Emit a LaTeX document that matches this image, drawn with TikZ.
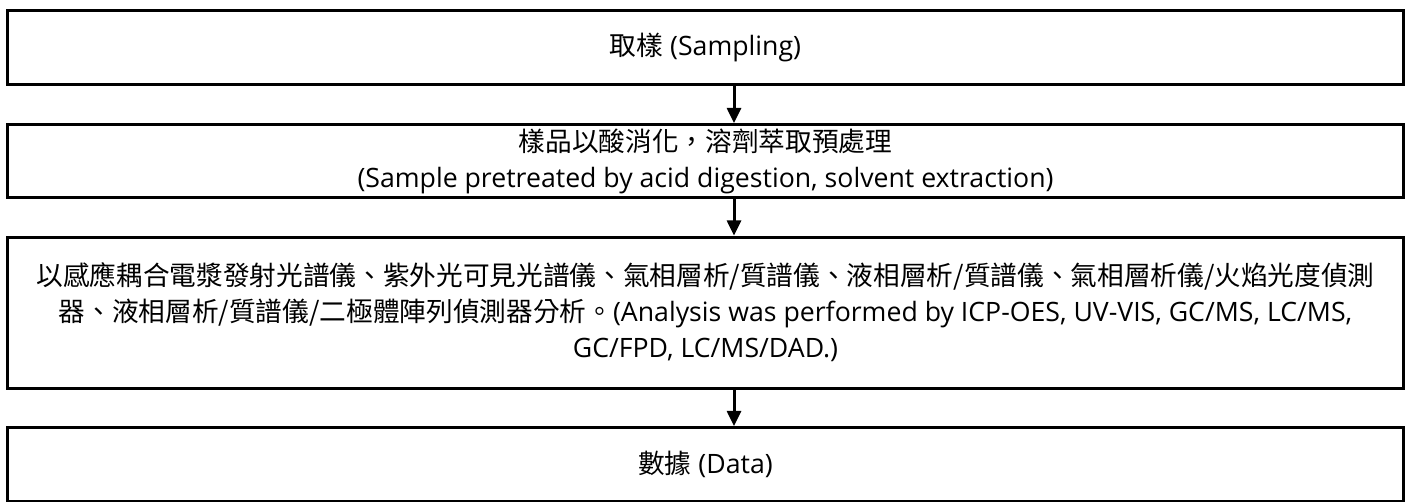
\documentclass[tikz,border=0pt]{standalone}
\usepackage{fontspec}
\setmainfont{Open Sans}
\newfontfamily\cjk[Script=CJK,Language=Chinese Traditional]{Noto Sans CJK TC}
\usetikzlibrary{arrows.meta}
\begin{document}
\begin{tikzpicture}[x=0.75pt,y=-0.75pt,
  box/.style={draw=black, line width=2.25pt, rectangle, outer sep=0pt, inner sep=0pt,
    minimum width=1047pt, align=center, font=\fontsize{20pt}{27pt}\selectfont},
  arr/.style={line width=2.25pt, -{Triangle[length=11.5pt,width=10.5pt]}, shorten >=1pt}]
\useasboundingbox (0,0) rectangle (1411,501);
\node[box, minimum height=55.5pt] (b1) at (705.5,47.5) {{\cjk 取樣} (Sampling)};
\node[box, minimum height=54.75pt] (b2) at (705.5,161) {{\cjk 樣品以酸消化，溶劑萃取預處理}\\(Sample pretreated by acid digestion, solvent extraction)};
\node[box, minimum height=113.25pt] (b3) at (705.5,312.5) {{\cjk 以感應耦合電漿發射光譜儀、紫外光可見光譜儀、氣相層析/質譜儀、液相層析/質譜儀、氣相層析儀/火焰光度偵測}\\{\cjk 器、液相層析/質譜儀/二極體陣列偵測器分析。}(Analysis was performed by ICP-OES, UV-VIS, GC/MS, LC/MS,\\GC/FPD, LC/MS/DAD.)};
\node[box, minimum height=55.5pt] (b4) at (705.5,464.5) {{\cjk 數據} (Data)};
\coordinate (ax) at (734,0);
\draw[arr] (b1.south -| ax) -- (b2.north -| ax);
\draw[arr] (b2.south -| ax) -- (b3.north -| ax);
\draw[arr] (b3.south -| ax) -- (b4.north -| ax);
\end{tikzpicture}
\end{document}
